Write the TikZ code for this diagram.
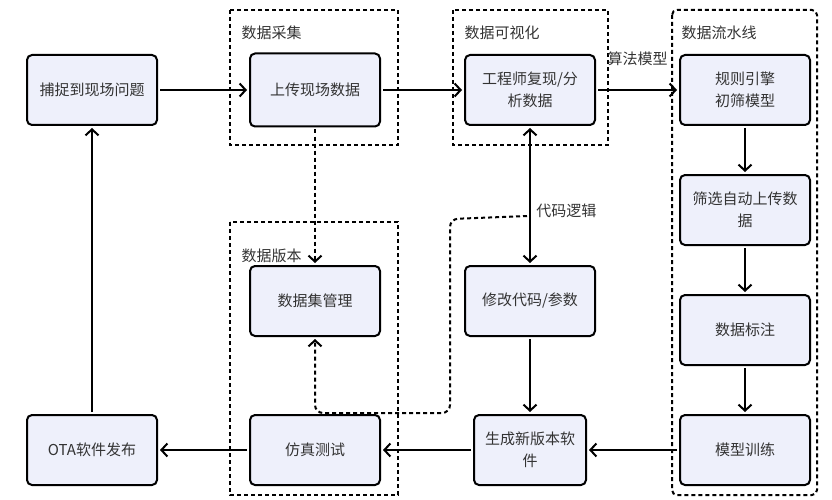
\documentclass[tikz,border=0pt]{standalone}
\usepackage{fontspec}
\setmainfont{Noto Sans CJK SC}
\usetikzlibrary{arrows.meta}

\definecolor{boxfill}{HTML}{EEF0FB}
\definecolor{txtgray}{HTML}{333333}

\begin{document}
\begin{tikzpicture}[x=1pt,y=-1pt,
    box/.style={draw,line width=2pt,rounded corners=5pt,fill=boxfill,
      minimum width=130pt,minimum height=70pt,align=center,text=txtgray,
      font=\fontsize{15}{22}\selectfont},
    group/.style={draw,line width=2pt,dash pattern=on 4pt off 3pt},
    grouplabel/.style={anchor=west,text=txtgray,font=\fontsize{15}{18}\selectfont},
    tip/.tip={Straight Barb[length=6pt,width=13pt,line width=2pt]},
    flow/.style={line width=2pt,-tip,shorten >=2pt,shorten <=2pt},
  ]
  \useasboundingbox (0,0) rectangle (832,500);

  % dashed groups
  \draw[group] (230,10) rectangle (398,145);
  \draw[group] (453,10) rectangle (608,145);
  \draw[group,rounded corners=5pt] (672,10) rectangle (817,495);
  \draw[group] (230,222) rectangle (398,495);
  \node[grouplabel] (collectlabel) at (238,33) {数据采集};
  \node[grouplabel] (vislabel) at (461,33) {数据可视化};
  \node[grouplabel] (pipelabel) at (678,33) {数据流水线};
  \node[grouplabel] (versionlabel) at (238,256) {数据版本};

  % boxes
  \node[box] (capture) at (92,90) {捕捉到现场问题};
  \node[box,minimum height=73pt] (upload) at (315,90) {上传现场数据};
  \node[box] (analyze) at (530,90) {工程师复现/分\\析数据};
  \node[box] (rules) at (745,90) {规则引擎\\初筛模型};
  \node[box] (filter) at (745,210) {筛选自动上传数\\据};
  \node[box] (marking) at (745,330) {数据标注};
  \node[box] (train) at (745,450) {模型训练};
  \node[box] (dataset) at (315,301) {数据集管理};
  \node[box] (modify) at (530,301) {修改代码/参数};
  \node[box,minimum width=112pt] (build) at (530,450) {生成新版本软\\件};
  \node[box] (simtest) at (315,450) {仿真测试};
  \node[box] (ota) at (92,450) {OTA软件发布};

  % arrows
  \draw[flow] (capture) -- (upload);
  \draw[flow] (upload) -- (analyze);
  \draw[flow] (analyze) -- node[midway,above=20pt,text=txtgray,
    font=\fontsize{15}{18}\selectfont] (algolabel) {算法模型} (rules);
  \foreach \a/\b in {rules/filter,filter/marking,marking/train,train/build,
    build/simtest,simtest/ota,ota/capture,modify/build}
    \draw[flow] (\a) -- (\b);
  \draw[flow,tip-tip] (modify) -- node[pos=0.39,right=2pt,text=txtgray,
    font=\fontsize{15}{18}\selectfont] (codelabel) {代码逻辑} (analyze);

  % dashed data links
  \coordinate (codejoin) at (529,216);
  \draw[flow,dash pattern=on 4pt off 3pt] (upload) -- (dataset);
  \draw[flow,dash pattern=on 4pt off 3pt,rounded corners=8pt]
    (codejoin) -- (450,219) -- (450,413) -- (315,413) -- (dataset.south);
\end{tikzpicture}
\end{document}
